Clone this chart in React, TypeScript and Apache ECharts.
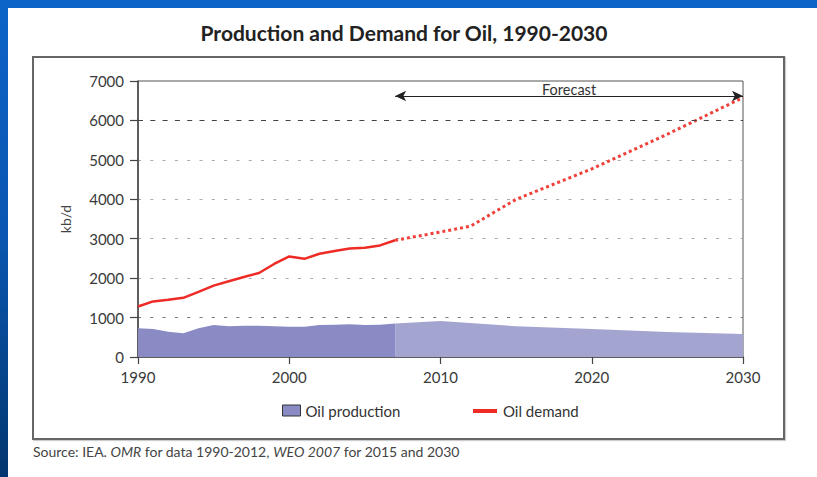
import React, { useEffect, useRef } from "react";
import * as echarts from "echarts";

const prodHistYears = [1990, 1991, 1992, 1993, 1994, 1995, 1996, 1997, 1998, 1999, 2000, 2001, 2002, 2003, 2004, 2005, 2006, 2007];
const prodHistValues = [730, 710, 640, 600, 730, 810, 780, 790, 790, 780, 770, 770, 810, 820, 830, 810, 820, 850];
const prodFcstYears = [2007, 2010, 2015, 2020, 2025, 2030];
const prodFcstValues = [850, 910, 780, 710, 635, 585];

const demHistYears = [1990, 1991, 1992, 1993, 1994, 1995, 1996, 1997, 1998, 1999, 2000, 2001, 2002, 2003, 2004, 2005, 2006, 2007];
const demHistValues = [1280, 1410, 1450, 1500, 1650, 1810, 1920, 2030, 2130, 2360, 2550, 2490, 2620, 2690, 2750, 2770, 2830, 2960];
const demFcstYears = [2007, 2010, 2012, 2015, 2020, 2025, 2030];
const demFcstValues = [2960, 3170, 3320, 4000, 4770, 5650, 6580];

const forecastRange = [2007, 2030];
const forecastArrowLevel = 6620;
const highlightGridValue = 6000;

const title = "Production and Demand for Oil, 1990-2030";
const yAxisName = "kb/d";
const seriesNames = ["Oil production", "Oil demand"];

const FONT = "Lato, 'Noto Sans', sans-serif";

const pairs = (xs: number[], ys: number[]) => xs.map((x, i) => [x, ys[i]]);

export default function App() {
  const ref = useRef<HTMLDivElement>(null);
  useEffect(() => {
    if (!ref.current) return;
    const chart = echarts.init(ref.current, null, { renderer: "svg" });
    const prodDark = "#8a8bc4";
    const prodLight = "#a4a4d1";
    const red = "#ee2b25";
    chart.setOption({
      animation: false,
      textStyle: { fontFamily: FONT },
      title: {
        text: title,
        left: 404,
        textAlign: "center",
        top: 22,
        padding: 0,
        textStyle: { fontFamily: FONT, fontSize: 21, fontWeight: "bold", color: "#222" },
      },
      grid: {
        left: 138,
        top: 81,
        width: 605,
        height: 276,
        show: true,
        borderColor: "#555",
        borderWidth: 1,
        backgroundColor: "transparent",
      },
      legend: {
        data: [
          {
            name: seriesNames[0],
            icon: "rect",
            itemStyle: { color: prodDark, borderColor: "#333", borderWidth: 1 },
          },
        ],
        left: 282,
        top: 403,
        padding: 0,
        itemWidth: 18,
        itemHeight: 11,
        itemGap: 6,
        textStyle: { fontFamily: FONT, fontSize: 15, color: "#333" },
        selectedMode: false,
      },
      xAxis: {
        type: "value",
        min: 1990,
        max: 2030,
        interval: 10,
        axisLine: { lineStyle: { color: "#444", width: 1.5 } },
        axisTick: { show: true, length: 7, inside: false, lineStyle: { color: "#444", width: 1.2 } },
        axisLabel: { margin: 12, fontSize: 15, color: "#3a3a3a", fontFamily: FONT, formatter: (v: number) => String(v) },
        splitLine: { show: false },
      },
      yAxis: {
        type: "value",
        min: 0,
        max: 7000,
        interval: 1000,
        name: yAxisName,
        nameLocation: "middle",
        nameGap: 66,
        nameRotate: 90,
        nameTextStyle: { fontFamily: FONT, fontSize: 14, color: "#444" },
        axisLine: { show: true, lineStyle: { color: "#444", width: 1.5 } },
        axisTick: { show: true, length: 8, lineStyle: { color: "#444", width: 1.2 } },
        axisLabel: { margin: 14, fontSize: 15, color: "#3a3a3a", fontFamily: FONT, formatter: (v: number) => String(v) },
        splitLine: {
          show: true,
          lineStyle: {
            color: ["rgba(0,0,0,0)", "#777", "#aaa", "#aaa", "#aaa", "#aaa", "rgba(0,0,0,0)", "rgba(0,0,0,0)"],
            type: [3, 9.3],
            width: 1.2,
          },
        },
      },
      series: [
        {
          name: seriesNames[0],
          type: "line",
          data: pairs(prodHistYears, prodHistValues),
          symbol: "none",
          lineStyle: { width: 0 },
          itemStyle: { color: prodDark },
          areaStyle: { color: prodDark, opacity: 1 },
          z: 1,
        },
        {
          name: "Oil production (forecast)",
          type: "line",
          data: pairs(prodFcstYears, prodFcstValues),
          symbol: "none",
          lineStyle: { width: 0 },
          itemStyle: { color: prodLight },
          areaStyle: { color: prodLight, opacity: 1 },
          z: 1,
        },
        {
          name: seriesNames[1],
          type: "line",
          data: pairs(demHistYears, demHistValues),
          symbol: "none",
          itemStyle: { color: red },
          lineStyle: { color: red, width: 2.5, type: "solid" },
          z: 3,
          markLine: {
            silent: true,
            symbol: "none",
            animation: false,
            label: { show: false },
            lineStyle: { color: "#444", type: [5, 7.3], width: 1.2 },
            data: [{ yAxis: highlightGridValue }],
          },
        },
        {
          name: "Oil demand (forecast)",
          type: "line",
          data: pairs(demFcstYears, demFcstValues),
          symbol: "none",
          itemStyle: { color: red },
          lineStyle: { color: "#f0403a", width: 3, type: [3, 3] },
          z: 3,
          markLine: {
            silent: true,
            animation: false,
            symbol: ["arrow", "arrow"],
            symbolSize: [8, 11],
            lineStyle: { color: "#222", type: "solid", width: 1.2 },
            label: {
              show: true,
              position: "middle",
              formatter: "Forecast",
              fontFamily: FONT,
              fontSize: 14.5,
              color: "#333",
              distance: -1,
            },
            data: [
              [
                { coord: [forecastRange[0], forecastArrowLevel] },
                { coord: [forecastRange[1], forecastArrowLevel] },
              ],
            ],
          },
        },
      ],
      graphic: [
        {
          type: "rect",
          left: 473,
          top: 409,
          z: 10,
          shape: { x: 0, y: 0, width: 24, height: 4 },
          style: { fill: "#ee2b25", stroke: "none", lineWidth: 0 },
          silent: true,
        },
        {
          type: "text",
          left: 503,
          top: 403,
          style: {
            text: seriesNames[1],
            fontFamily: FONT,
            fontSize: 15,
            fill: "#333",
          },
        },
        {
          type: "text",
          left: 33,
          top: 444,
          style: {
            text: "Source: IEA. {i|OMR} for data 1990-2012, {i|WEO 2007} for 2015 and 2030",
            fontFamily: FONT,
            fontSize: 14,
            fill: "#444",
            rich: { i: { fontStyle: "italic", fontFamily: FONT, fontSize: 14, color: "#444" } },
          },
        },
      ],
    });
    return () => chart.dispose();
  }, []);

  return (
    <div
      style={{
        position: "fixed",
        left: 0,
        top: 0,
        width: 817,
        height: 477,
        background: "linear-gradient(to bottom, #0d64c8 0%, #0a56b0 50%, #03376f 100%)",
        overflow: "hidden",
      }}
    >
      <div style={{ position: "absolute", left: 8, top: 8, right: 0, bottom: 0, background: "#fff" }} />
      <div
        style={{
          position: "absolute",
          left: 32,
          top: 56,
          width: 749,
          height: 380,
          border: "2px solid #666",
          boxShadow: "1px 1px 1px rgba(0,0,0,0.2)",
        }}
      />
      <div ref={ref} style={{ position: "absolute", left: 0, top: 0, width: 817, height: 477 }} />
    </div>
  );
}
